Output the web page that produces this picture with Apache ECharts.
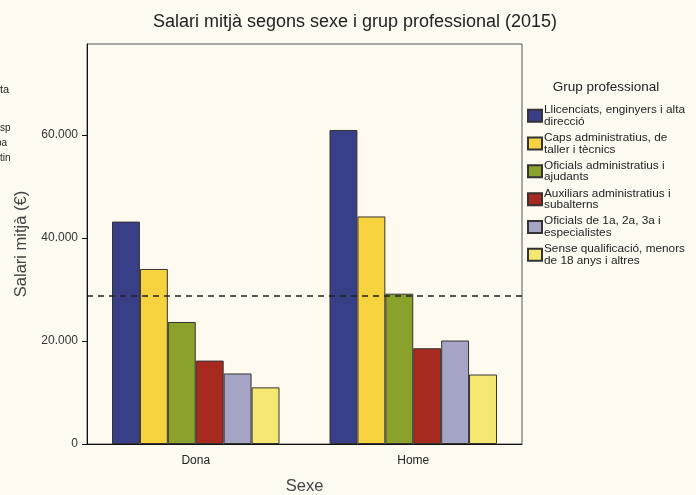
<!DOCTYPE html>
<html>
<head>
<meta charset="utf-8">
<script src="https://cdn.jsdelivr.net/npm/echarts@6/dist/echarts.min.js"></script>
<style>
html,body{margin:0;padding:0;background:#fffaf0;}
#chart{width:696px;height:495px;}
</style>
</head>
<body>
<div id="chart"></div>
<script>
const categories = ['Dona', 'Home'];
const groups = [
  'Llicenciats, enginyers i alta\ndirecció',
  'Caps administratius, de\ntaller i tècnics',
  'Oficials administratius i\najudants',
  'Auxiliars administratius i\nsubalterns',
  'Oficials de 1a, 2a, 3a i\nespecialistes',
  'Sense qualificació, menors\nde 18 anys i altres'
];
const llicenciats = [43200, 61000];
const caps = [34000, 44200];
const oficialsAdm = [23700, 29200];
const auxiliars = [16200, 18600];
const oficials123 = [13700, 20100];
const senseQualif = [11000, 13500];
const seriesValues = [llicenciats, caps, oficialsAdm, auxiliars, oficials123, senseQualif];
const colors = ['#393f87', '#f7d23f', '#8aa22c', '#a82a1e', '#a5a4c4', '#f5e872'];
const averageLine = 28750;
const yTicks = [0, 20000, 40000, 60000];

const fmt = v => v === 0 ? '0' : String(v).replace(/\B(?=(\d{3})+(?!\d))/g, '.');
const FONT = '"Liberation Sans", Arial, sans-serif';

const series = groups.map((g, i) => {
  const s = {
    name: g,
    type: 'bar',
    data: seriesValues[i],
    barGap: '0%',
    barCategoryGap: '23%',
    itemStyle: { color: colors[i], borderColor: '#333', borderWidth: 1 },
    emphasis: { disabled: true }
  };
  if (i === 0) {
    s.markLine = {
      silent: true,
      symbol: ['none', 'none'],
      label: { show: false },
      lineStyle: { color: '#222', type: [6, 5], width: 1.5 },
      data: [{ yAxis: averageLine }]
    };
  }
  return s;
});

const chart = echarts.init(document.getElementById('chart'), null, { renderer: 'canvas' });
chart.setOption({
  backgroundColor: '#fffaf0',
  animation: false,
  textStyle: { fontFamily: FONT },
  grid: { left: 87, top: 44, right: 174, bottom: 51, outerBoundsMode: 'none', containLabel: false, show: true, borderColor: '#555', borderWidth: 1, backgroundColor: '#fffaf0' },
  legend: {
    orient: 'vertical',
    left: 527,
    top: 104,
    padding: 0,
    itemWidth: 14,
    itemHeight: 12,
    itemGap: 4.3,
    icon: 'rect',
    selectedMode: false,
    textStyle: { fontFamily: FONT, fontSize: 11.8, color: '#222', lineHeight: 11.5, padding: [0, 0, 0, -3] },
    data: groups
  },
  xAxis: {
    type: 'category',
    data: categories,
    name: 'Sexe',
    nameLocation: 'middle',
    nameGap: 34,
    nameTextStyle: { fontFamily: FONT, fontSize: 16.5, color: '#444' },
    axisLine: { lineStyle: { color: '#111', width: 1 } },
    axisTick: { alignWithLabel: true, length: 5, lineStyle: { color: '#111' } },
    axisLabel: { fontFamily: FONT, fontSize: 12, color: '#222', margin: 11 }
  },
  yAxis: {
    type: 'value',
    min: 0,
    max: 77700,
    interval: 20000,
    name: 'Salari mitjà (€)',
    nameLocation: 'middle',
    nameGap: 54,
    nameTextStyle: { fontFamily: FONT, fontSize: 16.5, color: '#444' },
    splitLine: { show: false },
    axisLine: { show: true, lineStyle: { color: '#111', width: 1 } },
    axisTick: { show: true, length: 5, lineStyle: { color: '#111' }, customValues: yTicks },
    axisLabel: { fontFamily: FONT, fontSize: 12, color: '#333', margin: 9, customValues: yTicks, formatter: v => fmt(v) }
  },
  graphic: [
    { type: 'text', x: 355, y: 22, style: { text: 'Salari mitjà segons sexe i grup professional (2015)', font: '18px ' + FONT, fill: '#222', align: 'center', verticalAlign: 'middle' } },
    { type: 'text', x: 606, y: 87, style: { text: 'Grup professional', font: '13.5px ' + FONT, fill: '#222', align: 'center', verticalAlign: 'middle' } },
    { type: 'text', x: 0, y: 90, style: { text: 'ta', font: '11px ' + FONT, fill: '#222', verticalAlign: 'middle' } },
    { type: 'text', x: 0, y: 128, style: { text: 'sp', font: '10px ' + FONT, fill: '#222', verticalAlign: 'middle' } },
    { type: 'text', x: -4, y: 143, style: { text: 'pa', font: '10px ' + FONT, fill: '#222', verticalAlign: 'middle' } },
    { type: 'text', x: 0, y: 158, style: { text: 'tin', font: '10px ' + FONT, fill: '#222', verticalAlign: 'middle' } }
  ],
  series: series
});
</script>
</body>
</html>
